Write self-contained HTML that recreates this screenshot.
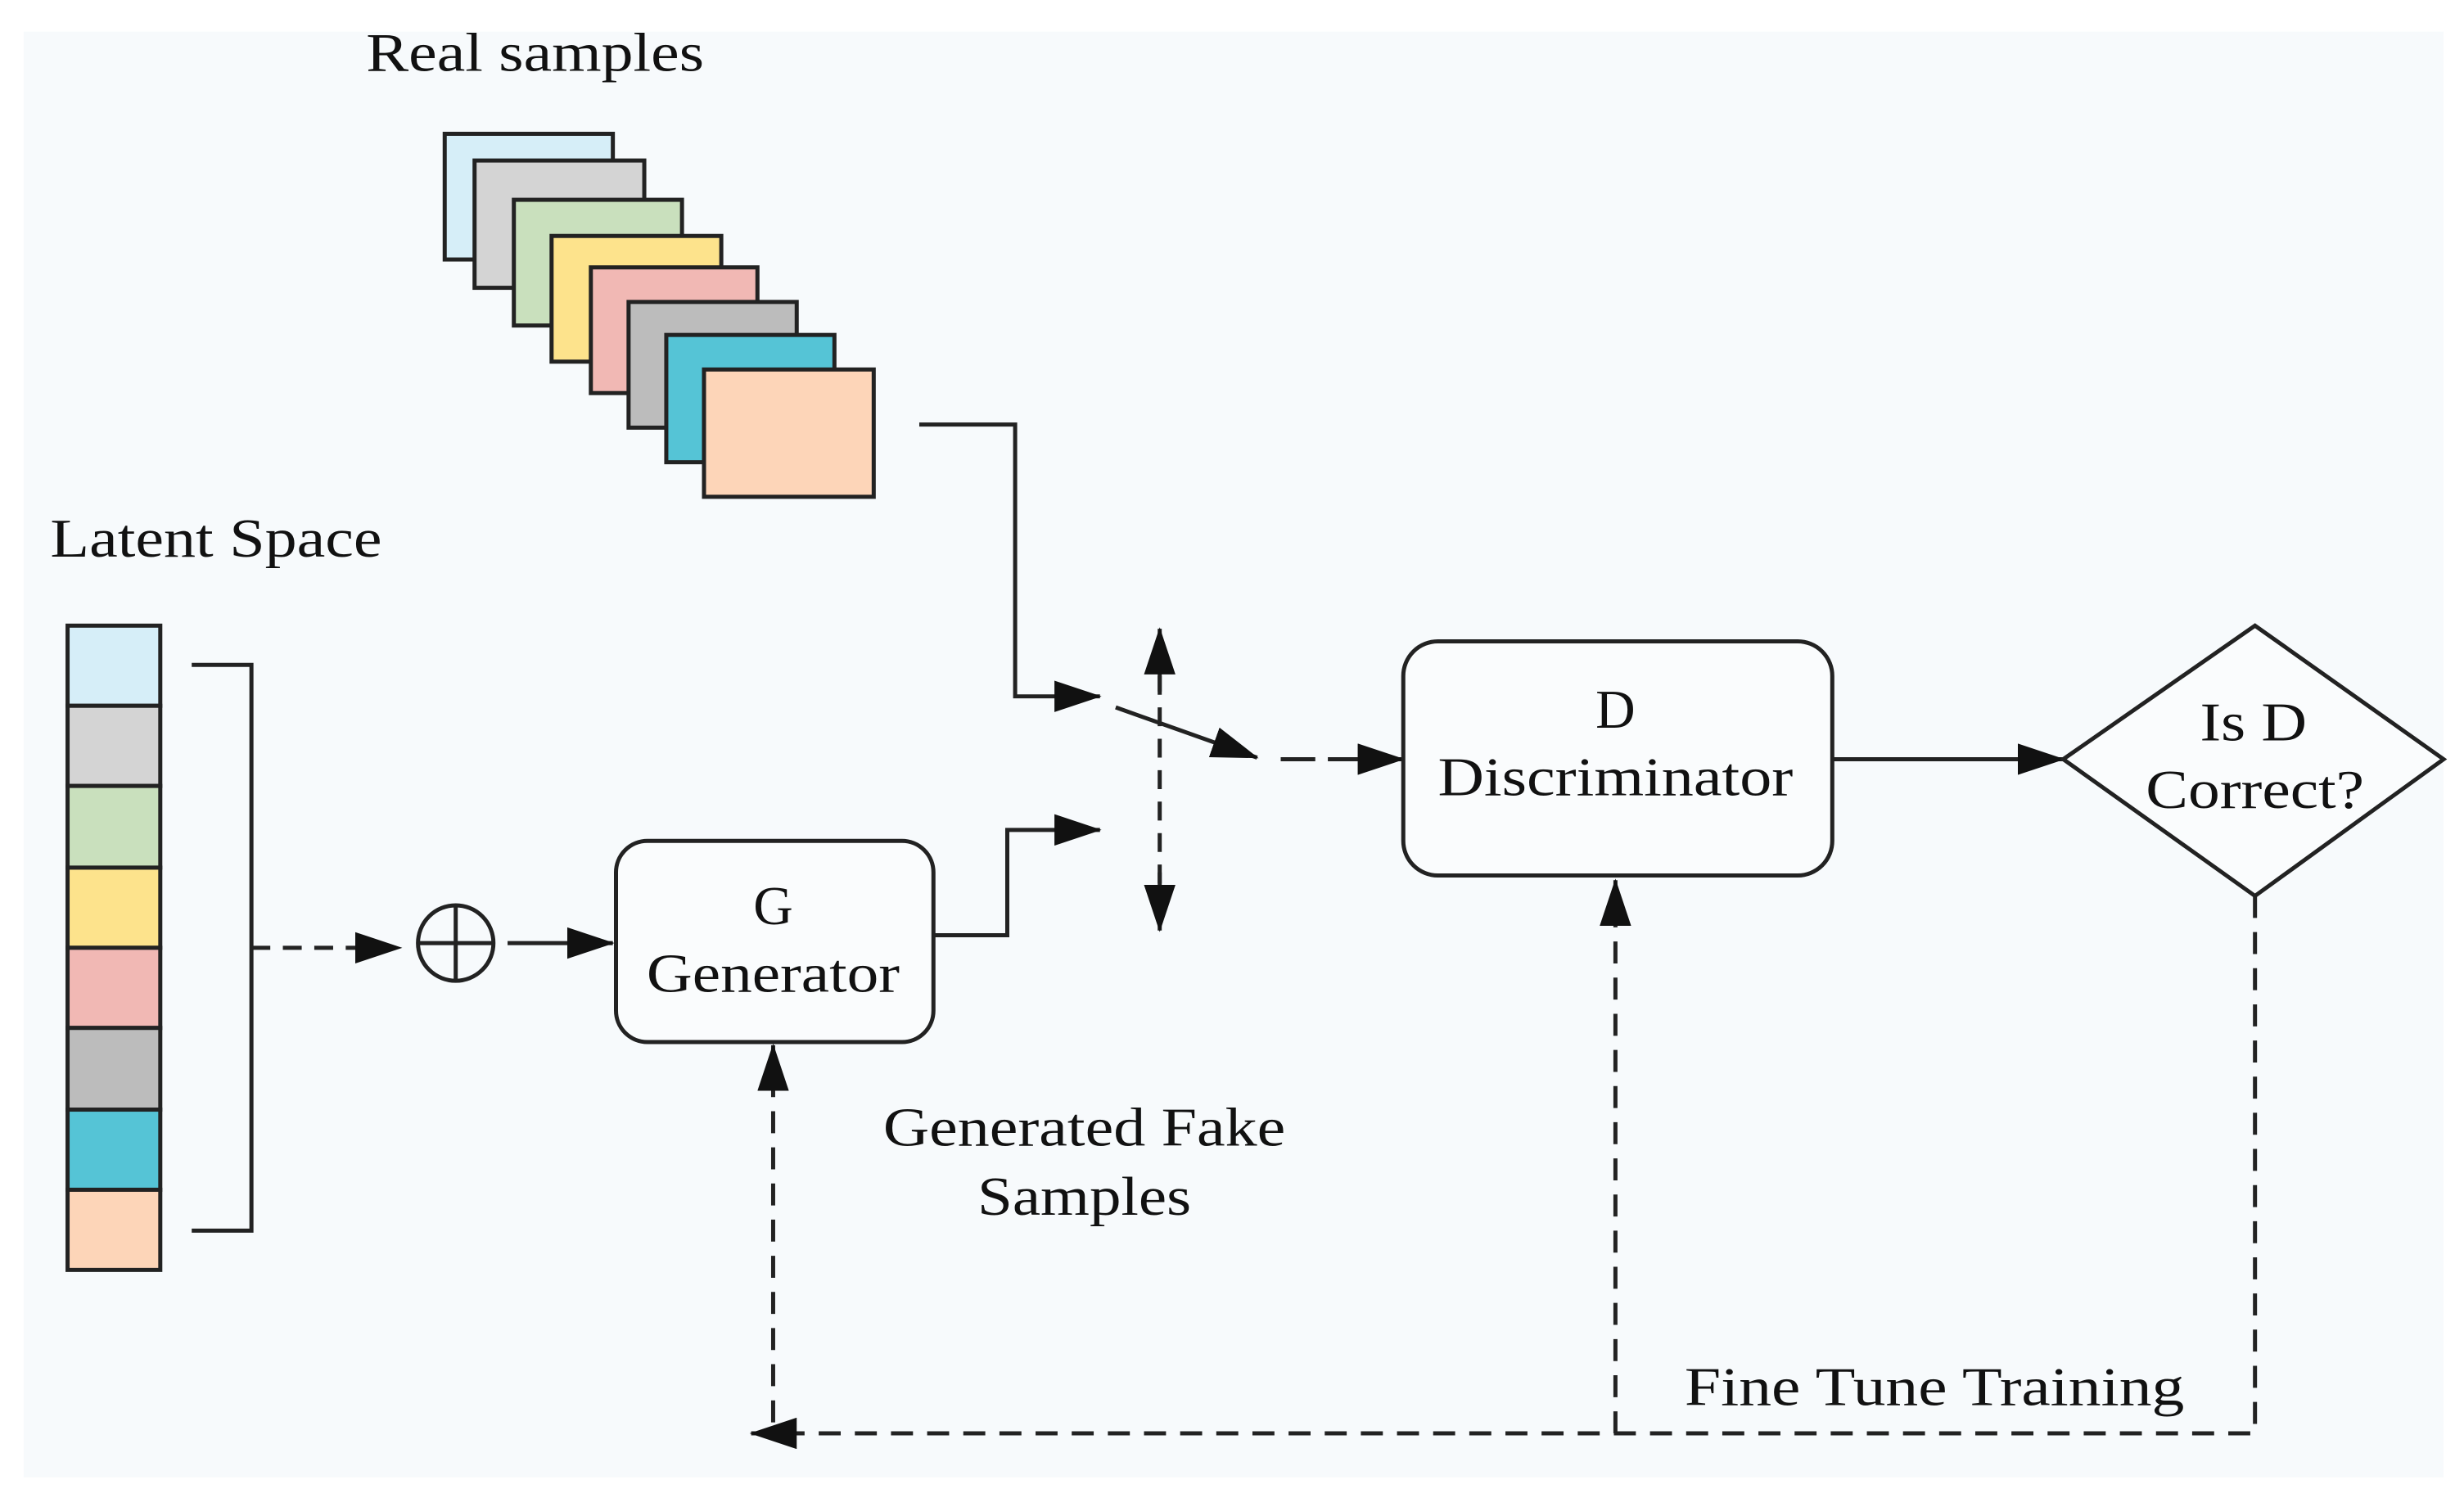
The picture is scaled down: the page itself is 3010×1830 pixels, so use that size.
<!DOCTYPE html>
<html><head><meta charset="utf-8"><style>html,body{margin:0;padding:0;background:#fff}svg{display:block}</style></head>
<body>
<svg width="3010" height="1830" viewBox="0 0 1568 953" xmlns="http://www.w3.org/2000/svg" font-family="Liberation Serif, serif" font-size="35" fill="#111">
<defs>
<marker id="b" markerWidth="30" markerHeight="20" refX="29" refY="10" orient="auto" markerUnits="userSpaceOnUse"><path d="M0,0L30,10L0,20z" fill="#111"/></marker>
</defs>
<rect x="0" y="0" width="1568" height="953" fill="#fff"/>
<rect x="15" y="20" width="1540" height="920" fill="#f7fafc"/>
<text x="233" y="45" textLength="215" lengthAdjust="spacingAndGlyphs">Real samples</text>
<g stroke="#222" stroke-width="2.6">
<rect x="283" y="85" width="107" height="80" fill="#d6eef8"/>
<rect x="302" y="102" width="108" height="81" fill="#d4d4d4"/>
<rect x="327" y="127" width="107" height="80" fill="#c9e0bd"/>
<rect x="351" y="150" width="108" height="80" fill="#fde38c"/>
<rect x="376" y="170" width="106" height="80" fill="#f1b8b4"/>
<rect x="400" y="192" width="107" height="80" fill="#bcbcbc"/>
<rect x="424" y="213" width="107" height="81" fill="#55c4d6"/>
<rect x="448" y="235" width="108" height="81" fill="#fdd5b8"/>
</g>
<text x="32" y="354" textLength="211" lengthAdjust="spacingAndGlyphs">Latent Space</text>
<g stroke="#222" stroke-width="2.6">
<rect x="43" y="398" width="59" height="51" fill="#d6eef8"/>
<rect x="43" y="449" width="59" height="51" fill="#d4d4d4"/>
<rect x="43" y="500" width="59" height="52" fill="#c9e0bd"/>
<rect x="43" y="552" width="59" height="51" fill="#fde38c"/>
<rect x="43" y="603" width="59" height="51" fill="#f1b8b4"/>
<rect x="43" y="654" width="59" height="52" fill="#bcbcbc"/>
<rect x="43" y="706" width="59" height="51" fill="#55c4d6"/>
<rect x="43" y="757" width="59" height="51" fill="#fdd5b8"/>
</g>
<g fill="none" stroke="#222" stroke-width="2.6">
<path d="M122,423H160V783H122"/>
<path d="M160,603H255" stroke-dasharray="12,8" marker-end="url(#b)"/>
<circle cx="290" cy="600" r="24"/>
<path d="M266,600H314M290,576V624"/>
<path d="M323,600H390" marker-end="url(#b)"/>
<rect x="392" y="535" width="202" height="128" rx="20" fill="#fafcfd"/>
<path d="M585,270H646V443H700" marker-end="url(#b)"/>
<path d="M594,595H641V528H700" marker-end="url(#b)"/>
<path d="M710,450L800,482" marker-end="url(#b)"/>
<path d="M738,430V562" stroke-dasharray="12,8"/>
<path d="M738,440V400" marker-end="url(#b)"/>
<path d="M738,555V592" marker-end="url(#b)"/>
<path d="M815,483H893" stroke-dasharray="22,8" marker-end="url(#b)"/>
<rect x="893" y="408" width="273" height="149" rx="22" fill="#fafcfd"/>
<path d="M1166,483H1313" marker-end="url(#b)"/>
<path d="M1313,483L1435,398L1555,483L1435,570Z" fill="#fafcfd"/>
<path d="M1435,570V912H478" stroke-dasharray="14,9" marker-end="url(#b)"/>
<path d="M1028,912V560" stroke-dasharray="14,9" marker-end="url(#b)"/>
<path d="M492,905V665" stroke-dasharray="14,9" marker-end="url(#b)"/>
</g>
<g text-anchor="middle">
<text x="492" y="588">G</text>
<text x="492" y="631" textLength="161" lengthAdjust="spacingAndGlyphs">Generator</text>
<text x="1028" y="463">D</text>
<text x="1028" y="506" textLength="226" lengthAdjust="spacingAndGlyphs">Discriminator</text>
<text x="1434" y="471" textLength="68" lengthAdjust="spacingAndGlyphs">Is D</text>
<text x="1435" y="514" textLength="139" lengthAdjust="spacingAndGlyphs">Correct?</text>
<text x="690" y="729" textLength="256" lengthAdjust="spacingAndGlyphs">Generated Fake</text>
<text x="690" y="773" textLength="136" lengthAdjust="spacingAndGlyphs">Samples</text>
</g>
<text x="1072" y="894" textLength="318" lengthAdjust="spacingAndGlyphs">Fine Tune Training</text>
</svg>
</body></html>
